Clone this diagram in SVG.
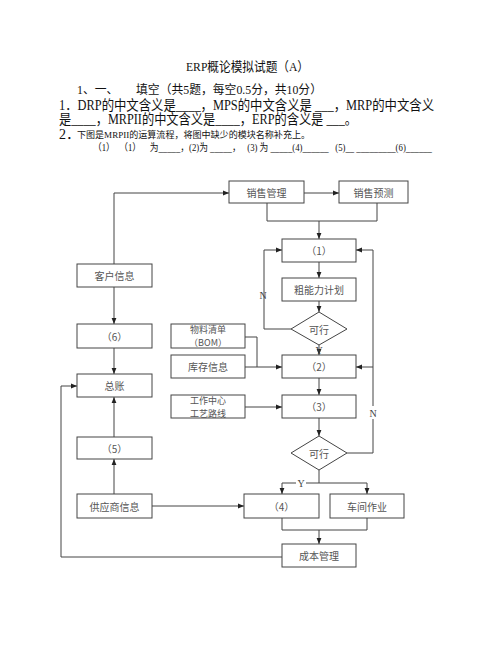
<svg xmlns="http://www.w3.org/2000/svg" width="502" height="649" viewBox="0 0 502 649">
<defs>
<marker id="arr" viewBox="0 0 10 10" refX="10" refY="5" markerWidth="6" markerHeight="6" orient="auto" markerUnits="userSpaceOnUse">
<path d="M0,1 L10,5 L0,9 z" fill="#222"/>
</marker>
<style>
.hd{font-family:"Liberation Serif","Noto Sans CJK SC",serif;fill:#111;white-space:pre}
.box{fill:#fff;stroke:#444;stroke-width:1}
.lbl{font-family:"Noto Sans CJK SC","Liberation Sans",sans-serif;font-size:10px;fill:#555;text-anchor:middle;dominant-baseline:central}
.sm{font-size:9px}
.ln{fill:none;stroke:#444;stroke-width:1}
.ar{marker-end:url(#arr)}
.yn{font-family:"Liberation Serif",serif;font-size:10px;fill:#444;text-anchor:middle;dominant-baseline:central}
</style>
</defs>
<rect width="502" height="649" fill="#fff"/>
<g id="header">
<text class="hd" x="186" y="71" font-size="13" textLength="123" lengthAdjust="spacingAndGlyphs">ERP概论模拟试题（A）</text>
<text class="hd" x="77" y="94" font-size="12" textLength="245" lengthAdjust="spacingAndGlyphs" xml:space="preserve">1、一、      填空（共5题，每空0.5分，共10分）</text>
<text class="hd" x="59" y="110" font-size="14" textLength="375" lengthAdjust="spacingAndGlyphs">1．DRP的中文含义是____，MPS的中文含义是 ___，MRP的中文含义</text>
<text class="hd" x="59" y="124" font-size="14" textLength="298" lengthAdjust="spacingAndGlyphs">是____，MRPII的中文含义是____，ERP的含义是 ___。</text>
<text class="hd" x="59" y="139" font-size="14">2．</text>
<text class="hd" x="77" y="138" font-size="9" textLength="233" lengthAdjust="spacingAndGlyphs">下图是MRPII的运算流程，将图中缺少的模块名称补充上。</text>
<text class="hd" x="93" y="151" font-size="10" textLength="339" lengthAdjust="spacingAndGlyphs" xml:space="preserve">（1）  （1）    为_____，(2)为 _____，   (3) 为 _____(4)______   (5)__ _________(6)______</text>
</g>
<g id="connectors">
<path class="ln ar" d="M114,264 V193 H229"/>
<path class="ln ar" d="M304,193 H339"/>
<path class="ln" d="M267,203 V221 H377 V203"/>
<path class="ln ar" d="M319,221 V239"/>
<path class="ln ar" d="M319,262 V278"/>
<path class="ln ar" d="M319,301 V312"/>
<path class="ln ar" d="M291,329 H264 V250 H282"/>
<path class="ln ar" d="M319,345 V355"/>
<path class="ln" d="M245,337 H257 V367"/>
<path class="ln ar" d="M245,367 H282"/>
<path class="ln ar" d="M319,378 V395"/>
<path class="ln ar" d="M245,407 H282"/>
<path class="ln ar" d="M319,418 V436"/>
<path class="ln ar" d="M347,453 H373 V250 H356"/>
<path class="ln ar" d="M373,367 H356"/>
<path class="ln" d="M319,470 V483"/>
<path class="ln ar" d="M300,483 H282 V494"/>
<path class="ln ar" d="M300,483 H367 V494"/>
<path class="ln ar" d="M152,506 H244"/>
<path class="ln ar" d="M114,494 V459"/>
<path class="ln ar" d="M114,437 V397"/>
<path class="ln ar" d="M114,287 V324"/>
<path class="ln ar" d="M114,348 V374"/>
<path class="ln" d="M282,518 V530 H367 V518"/>
<path class="ln ar" d="M319,530 V544"/>
<path class="ln ar" d="M282,557 H61 V386 H77"/>
<text class="yn" x="263" y="295">N</text>
<rect x="368" y="406" width="10" height="13" fill="#fff"/>
<text class="yn" x="373" y="413">N</text>
<rect x="296" y="478" width="10" height="10" fill="#fff"/>
<text class="yn" x="301" y="483">Y</text>
</g>
<g id="n-xsgl"><rect class="box" x="229" y="181" width="75" height="22"/><text class="lbl" x="266.5" y="192">销售管理</text></g>
<g id="n-xsyc"><rect class="box" x="339" y="181" width="69" height="22"/><text class="lbl" x="373.5" y="192">销售预测</text></g>
<g id="n-1"><rect class="box" x="282" y="239" width="74" height="23"/><text class="lbl" x="319" y="250.5">（1）</text></g>
<g id="n-khxx"><rect class="box" x="77" y="264" width="75" height="23"/><text class="lbl" x="114.5" y="275.5">客户信息</text></g>
<g id="n-cnljh"><rect class="box" x="282" y="278" width="74" height="23"/><text class="lbl" x="319" y="289.5">粗能力计划</text></g>
<g id="n-kx1"><polygon class="box" points="319,312 347,329 319,345 291,329"/><text class="lbl" x="319" y="329">可行</text></g>
<g id="n-6"><rect class="box" x="77" y="324" width="75" height="24"/><text class="lbl" x="114.5" y="336">（6）</text></g>
<g id="n-bom"><rect class="box" x="171" y="324" width="74" height="24"/><text class="lbl sm" x="208" y="329.5">物料清单</text><text class="lbl sm" x="208" y="342.5">（BOM）</text></g>
<g id="n-kcxx"><rect class="box" x="171" y="355" width="74" height="23"/><text class="lbl" x="208" y="366.5">库存信息</text></g>
<g id="n-2"><rect class="box" x="282" y="355" width="74" height="23"/><text class="lbl" x="319" y="366.5">（2）</text></g>
<g id="n-zz"><rect class="box" x="77" y="374" width="75" height="23"/><text class="lbl" x="114.5" y="385.5">总账</text></g>
<g id="n-gzzx"><rect class="box" x="171" y="395" width="74" height="23"/><text class="lbl sm" x="208" y="400">工作中心</text><text class="lbl sm" x="208" y="413">工艺路线</text></g>
<g id="n-3"><rect class="box" x="282" y="395" width="74" height="23"/><text class="lbl" x="319" y="406.5">（3）</text></g>
<g id="n-5"><rect class="box" x="77" y="437" width="75" height="22"/><text class="lbl" x="114.5" y="448">（5）</text></g>
<g id="n-kx2"><polygon class="box" points="319,436 347,453 319,470 291,453"/><text class="lbl" x="319" y="453">可行</text></g>
<g id="n-gysxx"><rect class="box" x="77" y="494" width="75" height="24"/><text class="lbl" x="114.5" y="506">供应商信息</text></g>
<g id="n-4"><rect class="box" x="244" y="494" width="75" height="24"/><text class="lbl" x="281.5" y="506">（4）</text></g>
<g id="n-cjzy"><rect class="box" x="330" y="494" width="74" height="24"/><text class="lbl" x="367" y="506">车间作业</text></g>
<g id="n-cbgl"><rect class="box" x="282" y="544" width="74" height="23"/><text class="lbl" x="319" y="555.5">成本管理</text></g>
<g id="labels"><text class="yn" x="319" y="350">Y</text></g>
</svg>
